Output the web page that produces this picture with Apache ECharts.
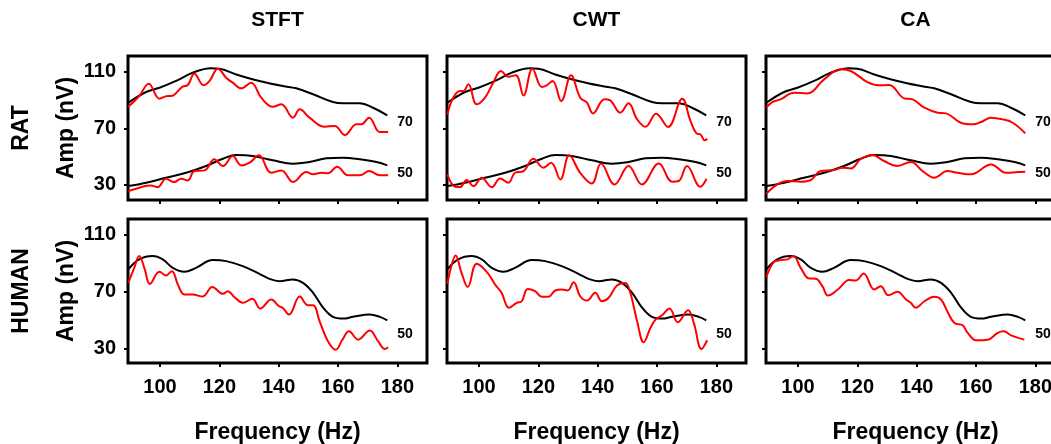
<!DOCTYPE html>
<html>
<head>
<meta charset="utf-8">
<script src="https://cdn.jsdelivr.net/npm/echarts@6/dist/echarts.min.js"></script>
<style>
  html, body { margin: 0; padding: 0; background: #fff; }
  #chart { width: 1051px; height: 444px; }
</style>
</head>
<body>
<div id="chart"></div>
<script>
// column / row headings and axis ticks
var methods = ['STFT', 'CWT', 'CA'];
var species = ['RAT', 'HUMAN'];
var freqTicks = [100, 120, 140, 160, 180];
var ampTicks = [30, 70, 110];

// black reference curves [Hz, nV] (same in every column)
var ratBlack70 = [[89.3,88],[95.3,95.6],[99.8,98.6],[105.4,103.4],[111,109.2],[117.2,112.3],[120,112],[125.7,108],[133.5,103.4],[141.4,99.8],[145.9,98.2],[151.6,94],[158.3,88.5],[161.7,87.6],[167.3,87.6],[171.8,84.5],[176.6,79.1]];
var ratBlack50 = [[89.3,29.2],[95.3,31.6],[102,35.1],[108.8,38.6],[115.5,43.4],[121.2,48.5],[125.7,51.1],[131.3,50.4],[138,47.4],[144.8,45],[150.4,46.2],[156.1,48.8],[161.7,49.2],[167.3,48.1],[173,46.2],[176.6,43.8]];
var humanBlack50 = [[89.3,85.5],[93,92.5],[97.5,94.8],[100.9,92.5],[104.3,86.6],[108.2,83.8],[112.1,86.6],[117.8,92],[122.3,91.3],[127.9,87.8],[133.5,82.4],[136.9,78.9],[140.3,77.3],[144.8,78.5],[148.2,76.1],[151.6,69.2],[154.9,59.1],[158.3,52.4],[161.7,51.2],[165.1,52.4],[170.7,54],[174.1,52.4],[176.6,50]];

// red curves per method
var stftRat70 = [[89.3,85.2],[93,92.8],[96.2,101.5],[99.8,90.9],[102.6,92.8],[103.7,92.8],[107.6,99.4],[109.3,100.3],[111.6,108.5],[114.7,100.3],[116.7,103.4],[119.5,112],[122.3,105.7],[124.5,102.2],[127.4,98.2],[130.7,102.2],[134.1,91.6],[138,85.2],[140.9,86.9],[144.8,77.5],[147.1,83.4],[150.4,77.5],[155.5,71.1],[158.9,71.6],[162.3,65.2],[166.2,72.8],[167.9,72.8],[170.5,77.5],[174.1,67.4],[176.9,67.4]];
var stftRat50 = [[89.3,25.7],[93,28.1],[96.9,29.7],[99.2,28.5],[102,34.4],[104.8,32.1],[107.1,34.4],[109.3,33.2],[111.6,39.8],[115,40.3],[118.3,48.1],[121.2,43.4],[124.5,50.4],[127.4,43.8],[130.2,45.7],[133.3,50.9],[137.5,38.6],[140.9,40.3],[144.8,32.1],[149.3,39.1],[151.6,37.5],[154.4,38.6],[156.6,38.2],[159.7,42.9],[163.4,36.8],[167.3,36.8],[170.5,39.8],[174.1,36.8],[176.9,36.8]];
var cwtRat70 = [[89.3,79.8],[91.3,91.6],[93.6,96.3],[94.7,96.3],[96.4,101],[99.2,86.9],[102,91.6],[104.8,102.2],[107.4,110.4],[109.9,106.4],[112.4,107.4],[115,93.2],[118,112],[121.2,99.1],[122.8,100.3],[124.8,103.4],[127.7,89.2],[131,107.4],[134.1,91.6],[136.4,88.1],[138.4,80.5],[142.3,90.4],[144.2,89.7],[147.6,81],[150.4,87.6],[153.3,76.3],[156.1,71.1],[159.7,80.3],[163.7,70.9],[168.5,90.9],[171.3,75.1],[173.5,66.2],[174.6,65.8],[176.1,61.5],[176.9,62.6]];
var cwtRat50 = [[89.3,37.5],[91.9,28.8],[93.6,28.5],[95.8,33.5],[98.1,29.2],[100.9,35.1],[104.3,28.5],[107.1,34.6],[109.9,31.6],[112.1,38.6],[115,39.8],[118.3,48.5],[121.7,42.2],[124.3,45.7],[127.4,33.9],[130.4,50.9],[134.1,38.6],[138,31.1],[141.1,45.2],[145.7,30.4],[150.4,43.4],[154.9,30.4],[160.6,45.2],[165.1,32.3],[167.3,32.8],[170.1,43.4],[174.6,28.8],[176.7,34.4]];
var caRat70 = [[89.3,84.5],[91.3,88.5],[94.1,90.4],[98.6,95.1],[103.1,94.6],[108.8,104.5],[114.4,111.6],[117.8,110.4],[123.4,102.6],[127.4,100.3],[130.7,100.5],[135.8,91.1],[138.6,90.4],[142.6,84.5],[147.1,81],[149.9,80.5],[154.9,73.9],[158.9,72.8],[161.7,74.4],[165.1,77.5],[169,76.3],[172.4,73.9],[176.6,66.4]];
var caRat50 = [[89.3,23.8],[93,30.4],[96.4,32.8],[100.9,32.3],[104.3,33.5],[107.6,39.8],[112.1,40.5],[115,42.2],[117.8,41.7],[121.2,48.5],[125.1,51.1],[129,46.9],[133.5,43.4],[138,46.2],[142,39.8],[145.9,35.1],[150.4,39.8],[153.8,38.6],[158.3,37.5],[165.1,44.5],[170.1,38.6],[174.1,39.1],[176.6,39.4]];
var stftHuman50 = [[89.3,76.1],[91.3,86.6],[93,94.8],[94.7,86.6],[96.6,75.4],[99.8,83.8],[102,81.3],[104,84.3],[106,75],[108.2,68],[111,68],[114.4,66.6],[117.6,73.3],[121.2,68.5],[122.8,70.3],[125.1,66.1],[127.9,62.2],[131.1,65],[133.8,58.2],[137.5,64.5],[140.1,59.8],[141.4,58.6],[143.5,54],[147.1,66.6],[149.9,60.5],[151.6,60.5],[153.8,49.3],[156.6,35.4],[159.2,29.5],[161.5,36.5],[163.7,42.3],[166.8,36.5],[170.7,42.8],[173.5,35.4],[175.8,30],[176.9,31.2]];
var cwtHuman50 = [[89.3,75.4],[90.5,86.6],[92.1,95.3],[94.1,83.1],[96.2,73.3],[99.2,89.4],[102.6,83.8],[105.4,75],[107.6,69.2],[110.1,58.7],[112.7,62.2],[114.4,63.3],[116.4,71.9],[118.9,70.3],[121.2,66.4],[123.4,66.4],[125.7,70.8],[127.9,71.5],[129.9,70.8],[131.9,76.6],[134.1,66.8],[136.4,63.8],[139.2,69.2],[141.4,63.3],[143.7,65.7],[146.5,74.3],[149.3,76.1],[151,69.2],[153.3,49.3],[155.5,34.7],[157.8,44.7],[159.5,50.5],[161.7,53.5],[164.2,58.2],[167,48.6],[170.5,57],[172.4,48.2],[175,30],[176.9,36.1]];
var caHuman50 = [[89.3,80.1],[91.9,90.8],[94.1,92],[96.4,92.5],[98.4,94.8],[100.9,86.6],[103.7,79.2],[106,79],[108.2,73.8],[110.1,67.3],[113.8,72.2],[117.2,78.2],[119.5,77.8],[122.1,82.7],[125.7,71.5],[127.9,73.8],[130.4,67.5],[133.5,69.9],[136.4,64.5],[138,62.2],[139.7,58.7],[142.6,63.3],[145.9,66.4],[148.2,64.5],[150.4,55.9],[152.7,48.2],[155.5,46.5],[157.2,41.2],[160,36.1],[164,36.5],[167.3,41.2],[169.4,42.3],[171.8,39.5],[176.3,36.5]];

var redRat70 = [stftRat70, cwtRat70, caRat70];
var redRat50 = [stftRat50, cwtRat50, caRat50];
var redHuman50 = [stftHuman50, cwtHuman50, caHuman50];

var FONT = '"Liberation Sans", Arial, sans-serif';
var colLeft = [128, 447, 766];
var rowTop = [56, 219];
var panelW = 299, panelH = 144;
var yRange = [[19.4, 121], [20.2, 120.7]];

var chart = echarts.init(document.getElementById('chart'));

var grids = [], xAxes = [], yAxes = [], series = [], graphics = [];

function addLine(idx, data, color, label, off) {
  var s = {
    type: 'line',
    xAxisIndex: idx,
    yAxisIndex: idx,
    data: data,
    smooth: 0.4,
    symbol: 'none',
    silent: true,
    lineStyle: { color: color, width: 2 },
    z: color === '#ff0000' ? 3 : 2
  };
  if (label) {
    s.endLabel = {
      show: true,
      formatter: label,
      distance: 0,
      offset: off,
      fontFamily: FONT,
      fontWeight: 'bold',
      fontSize: 14,
      color: '#000'
    };
  }
  series.push(s);
}

for (var r = 0; r < 2; r++) {
  for (var c = 0; c < 3; c++) {
    var idx = r * 3 + c;
    grids.push({
      left: colLeft[c], top: rowTop[r], width: panelW, height: panelH,
      outerBoundsMode: 'none', containLabel: false,
      show: true, borderColor: '#000', borderWidth: 3, backgroundColor: 'transparent'
    });
    xAxes.push({
      type: 'value', gridIndex: idx, min: 89.2, max: 190,
      axisLine: { show: false },
      splitLine: { show: false },
      axisTick: { show: true, customValues: freqTicks, length: 4, lineStyle: { color: '#000', width: 2 } },
      axisLabel: {
        show: r === 1, customValues: freqTicks, margin: 14,
        fontFamily: FONT, fontWeight: 'bold', fontSize: 20, color: '#000'
      },
      name: r === 1 ? 'Frequency (Hz)' : '',
      nameLocation: 'middle', nameGap: 58,
      nameTextStyle: { fontFamily: FONT, fontWeight: 'bold', fontSize: 23, color: '#000' }
    });
    yAxes.push({
      type: 'value', gridIndex: idx, min: yRange[r][0], max: yRange[r][1],
      axisLine: { show: false },
      splitLine: { show: false },
      axisTick: { show: true, customValues: ampTicks, length: 4, lineStyle: { color: '#000', width: 2 } },
      axisLabel: {
        show: c === 0, customValues: ampTicks, margin: 12,
        fontFamily: FONT, fontWeight: 'bold', fontSize: 20, color: '#000'
      },
      name: c === 0 ? 'Amp (nV)' : '',
      nameLocation: 'middle', nameGap: 50, nameRotate: 90,
      nameTextStyle: { fontFamily: FONT, fontWeight: 'bold', fontSize: 23, color: '#000' }
    });

    if (r === 0) {
      addLine(idx, ratBlack70, '#000', '70', [10, 7]);
      addLine(idx, redRat70[c], '#ff0000');
      addLine(idx, ratBlack50, '#000', '50', [10, 8]);
      addLine(idx, redRat50[c], '#ff0000');
    } else {
      addLine(idx, humanBlack50, '#000', '50', [10, 14]);
      addLine(idx, redHuman50[c], '#ff0000');
    }
  }
}

methods.forEach(function (m, c) {
  graphics.push({
    type: 'text', x: colLeft[c] + panelW / 2, y: 20,
    style: { text: m, font: 'bold 21px ' + FONT, fill: '#000', textAlign: 'center', textVerticalAlign: 'middle' }
  });
});
species.forEach(function (s, r) {
  graphics.push({
    type: 'text', x: 22, y: rowTop[r] + panelH / 2, rotation: Math.PI / 2,
    style: { text: s, font: 'bold 23px ' + FONT, fill: '#000', textAlign: 'center', textVerticalAlign: 'middle' }
  });
});

chart.setOption({
  animation: false,
  backgroundColor: '#fff',
  grid: grids,
  xAxis: xAxes,
  yAxis: yAxes,
  series: series,
  graphic: graphics
});
</script>
</body>
</html>
